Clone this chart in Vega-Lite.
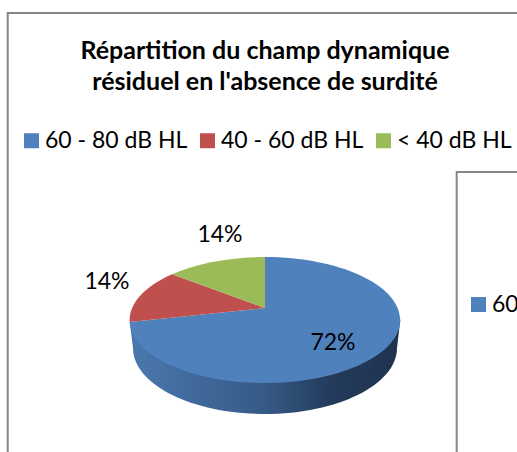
{
  "$schema": "https://vega.github.io/schema/vega-lite/v6.json",
  "autosize": "none",
  "padding": {"left": 8, "top": 13, "right": -5, "bottom": -175},
  "width": 514,
  "height": 614,
  "background": "white",
  "config": {"font": "Lato", "view": {"stroke": null}},
  "title": {
    "text": ["Répartition du champ dynamique", "résiduel en l'absence de surdité"],
    "anchor": "middle",
    "orient": "top",
    "offset": -86,
    "fontSize": 25,
    "fontWeight": "bold",
    "font": "Lato",
    "color": "black",
    "lineHeight": 31
  },
  "data": {
    "values": [
      {"tranche": "60 - 80 dB HL", "part": 0.72},
      {"tranche": "40 - 60 dB HL", "part": 0.14},
      {"tranche": "< 40 dB HL", "part": 0.14}
    ]
  },
  "layer": [
    {
      "transform": [{"filter": "datum.tranche === '60 - 80 dB HL'"}],
      "mark": {
        "type": "point", "filled": false, "opacity": 1, "size": 4, "stroke": "#868686", "strokeWidth": 2,
        "shape": "M-257.3,400 L-257.3,-307 L300,-307 M191.7,400 L191.7,-148 L300,-148"
      },
      "encoding": {}
    },
    {
      "transform": [{"filter": "datum.tranche === '60 - 80 dB HL'"}],
      "mark": {
        "type": "point",
        "filled": true,
        "opacity": 1,
        "size": 4,
        "shape": "M-135.3,2 L-132,28 A132,66 0 0 0 132,28 L135.3,0 Z",
        "fill": {
          "gradient": "linear", "x1": 0, "y1": 0, "x2": 1, "y2": 0,
          "stops": [
            {"offset": 0, "color": "#4a78ae"},
            {"offset": 0.5, "color": "#365a86"},
            {"offset": 0.75, "color": "#233a5a"},
            {"offset": 1, "color": "#1f334f"}
          ]
        }
      },
      "encoding": {}
    },
    {
      "transform": [{"filter": "datum.tranche === '60 - 80 dB HL'"}],
      "mark": {"type": "point", "filled": true, "size": 4, "shape": "M0,-12 L-135.3,2 A135.3,63 0 1 0 0,-63 Z"},
      "encoding": {
        "color": {
          "field": "tranche", "type": "nominal",
          "scale": {"domain": ["60 - 80 dB HL", "40 - 60 dB HL", "< 40 dB HL"], "range": ["#4f81bd", "#c0504d", "#9bbb59"]},
          "legend": {
            "orient": "none", "legendX": 12, "legendY": 116, "direction": "horizontal", "columns": 3,
            "title": null, "padding": 0, "symbolType": "square", "symbolSize": 225, "symbolStrokeWidth": 0, "symbolOpacity": 1,
            "labelFontSize": 23, "labelFont": "Lato", "labelColor": "black", "labelLimit": 300, "labelOffset": 2, "columnPadding": 8
          }
        },
        "opacity": {
          "field": "tranche", "type": "nominal",
          "scale": {"domain": ["60 - 80 dB HL"], "range": [1]},
          "legend": {
            "orient": "none", "legendX": 459, "legendY": 280,
            "title": null, "padding": 0, "symbolType": "square", "symbolSize": 225, "symbolStrokeWidth": 0,
            "symbolFillColor": "#4f81bd", "labelFontSize": 23, "labelFont": "Lato", "labelColor": "black", "labelLimit": 300, "labelOffset": 2
          }
        }
      }
    },
    {
      "transform": [{"filter": "datum.tranche === '40 - 60 dB HL'"}],
      "mark": {"type": "point", "filled": true, "opacity": 1, "size": 4, "shape": "M0,-12 L-93,-45.8 A135.3,63 0 0 0 -135.3,2 Z"},
      "encoding": {"color": {"field": "tranche", "type": "nominal"}}
    },
    {
      "transform": [{"filter": "datum.tranche === '< 40 dB HL'"}],
      "mark": {"type": "point", "filled": true, "opacity": 1, "size": 4, "shape": "M0,-12 L0,-63 A135.3,63 0 0 0 -93,-45.8 Z"},
      "encoding": {"color": {"field": "tranche", "type": "nominal"}}
    },
    {
      "transform": [{"filter": "datum.tranche === '60 - 80 dB HL'"}],
      "mark": {"type": "text", "fontSize": 23, "font": "Lato", "color": "black", "baseline": "middle", "dx": 68, "dy": 23},
      "encoding": {"text": {"field": "part", "type": "quantitative", "format": ".0%"}}
    },
    {
      "transform": [{"filter": "datum.tranche === '40 - 60 dB HL'"}],
      "mark": {"type": "text", "fontSize": 23, "font": "Lato", "color": "black", "baseline": "middle", "dx": -158, "dy": -38},
      "encoding": {"text": {"field": "part", "type": "quantitative", "format": ".0%"}}
    },
    {
      "transform": [{"filter": "datum.tranche === '< 40 dB HL'"}],
      "mark": {"type": "text", "fontSize": 23, "font": "Lato", "color": "black", "baseline": "middle", "dx": -45, "dy": -85},
      "encoding": {"text": {"field": "part", "type": "quantitative", "format": ".0%"}}
    }
  ]
}
